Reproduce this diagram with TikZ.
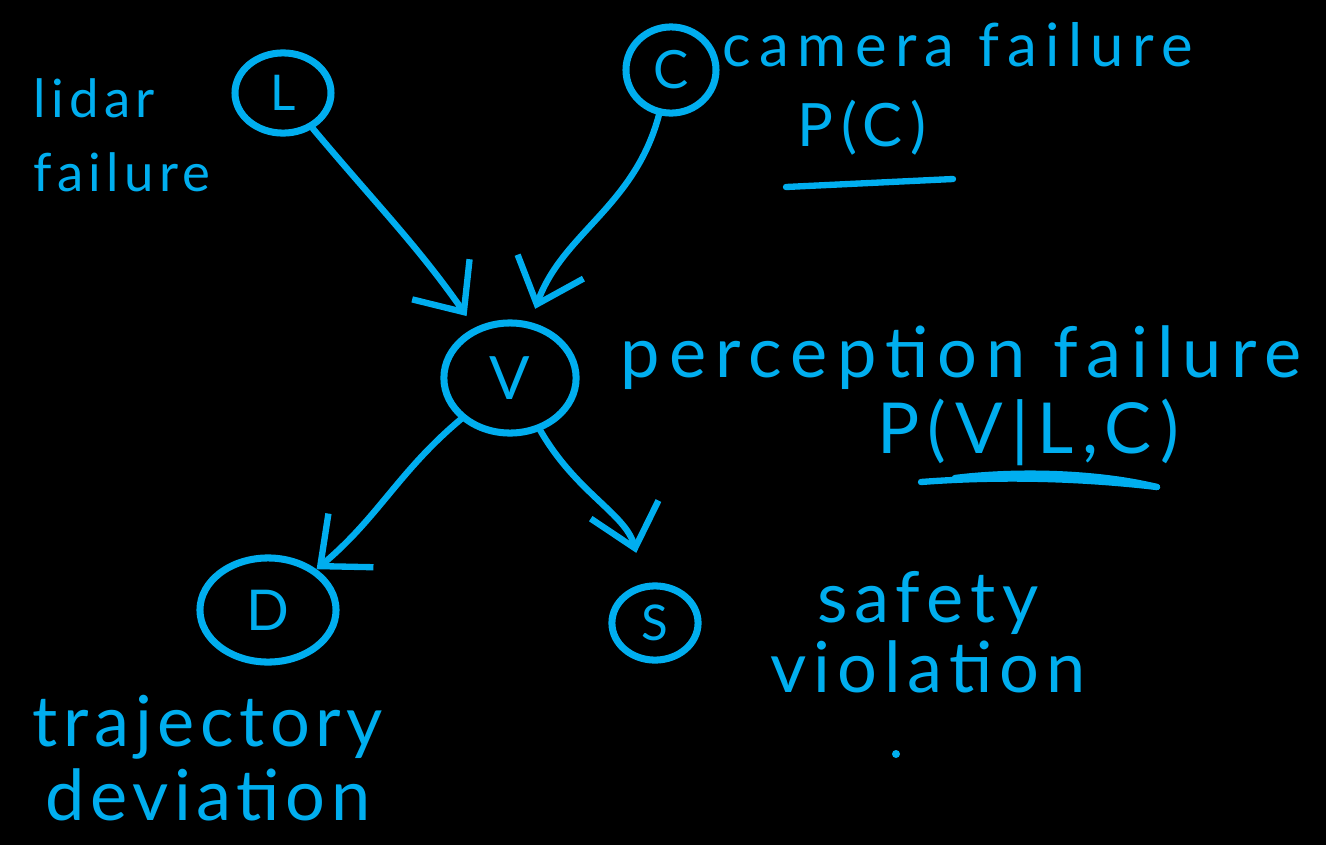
\documentclass[tikz,border=0pt]{standalone}
\usepackage{fontspec}
\setmainfont{Lato}
\usetikzlibrary{positioning,shapes.geometric,arrows.meta}
\definecolor{ink}{HTML}{00AEEF}

\begin{document}
\begin{tikzpicture}[
        x=0.01cm, y=-0.01cm,
        var/.style={ellipse, draw=ink, line width=2pt, inner sep=0pt, text=ink},
        note/.style={align=left, text=ink, inner sep=0pt},
        link/.style={draw=ink, line width=1.8pt, line cap=round, -{Straight Barb[length=4mm, width=7mm, line width=1.8pt]}},
        stroke/.style={draw=ink, line width=1.8pt, line cap=round}
    ]

    % --- background / frame ---
    \fill[black] (0,0) rectangle (1326,845);
    \useasboundingbox (0,0) rectangle (1326,845);

    % --- variables ---
    \node[var, font=\fontsize{14}{16}\selectfont, minimum width=27.3pt, minimum height=22.8pt] (L) at (283,93) {L};
    \node[var, font=\fontsize{15}{16}\selectfont, minimum width=25.6pt, minimum height=24.5pt] (C) at (671,70) {C};
    \node[var, font=\fontsize{17}{18}\selectfont, minimum width=37.6pt, minimum height=31.3pt] (V) at (510,378) {V};
    \node[var, font=\fontsize{16}{18}\selectfont, minimum width=38.7pt, minimum height=29.6pt] (D) at (268,610) {D};
    \node[var, font=\fontsize{14}{16}\selectfont, minimum width=24.5pt, minimum height=21.1pt] (S) at (655,623) {S};

    % --- edges ---
    \draw[link, shorten >=4pt] (L) to[out=-50, in=125] (V);
    \draw[link, shorten >=4pt] (C) to[out=-105, in=70] (V);
    \draw[link] (V) to[out=-140, in=40] (D);
    \draw[link, shorten >=9pt] (V) to[out=-60, in=105] (S);

    % --- labels ---
    \node[note, font=\fontsize{15}{21}\selectfont\addfontfeatures{LetterSpace=10}] (lidar) at (122,135) {lidar\\failure};
    \node[note, font=\fontsize{17}{20}\selectfont\addfontfeatures{LetterSpace=14}, anchor=west] (camera) at (722,45) {camera failure};
    \node[note, font=\fontsize{17}{20}\selectfont\addfontfeatures{LetterSpace=12}] (pc) at (862,128) {P(C)};
    \node[note, font=\fontsize{20}{24}\selectfont\addfontfeatures{LetterSpace=13}, anchor=west] (percep) at (620,358) {perception failure};
    \node[note, font=\fontsize{20}{24}\selectfont\addfontfeatures{LetterSpace=12}] (pv) at (1028,432) {P(V|L,C)};
    \node[note, font=\fontsize{20}{20}\selectfont\addfontfeatures{LetterSpace=10}, align=center] (safety) at (928,632) {safety\\violation};
    \node[note, font=\fontsize{20}{21}\selectfont\addfontfeatures{LetterSpace=8}, align=center] (traj) at (208,758) {trajectory\\deviation};

    % --- underlines and stray marks ---
    \draw[stroke] (786,187) -- (953,179);
    \draw[stroke] (921,482) .. controls (1000,476) and (1080,478) .. (1157,487);
    \draw[stroke] (955,478) .. controls (1020,470) and (1100,473) .. (1157,487);
    \fill[ink] (896,754) circle (4);
\end{tikzpicture}
\end{document}
